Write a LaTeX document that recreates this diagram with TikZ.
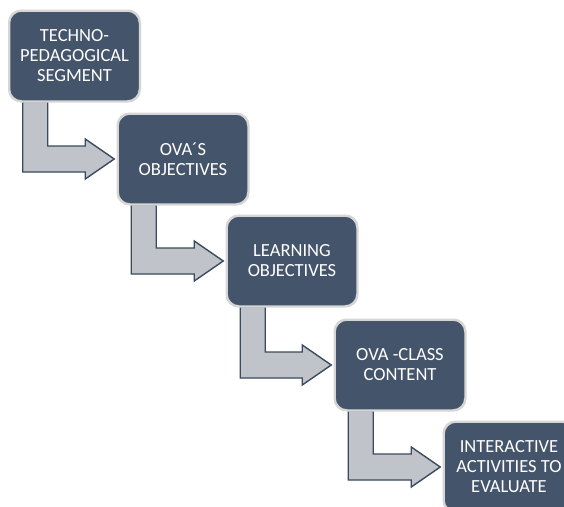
\documentclass[tikz,border=0pt]{standalone}
\usepackage{fontspec}
\setmainfont{Carlito}
\usetikzlibrary{calc}
\definecolor{boxfill}{HTML}{44546A}
\definecolor{boxline}{HTML}{D6D6D6}
\definecolor{arrfill}{HTML}{C0C4CA}
\definecolor{arrline}{HTML}{3B4A5E}
\tikzset{
  stepbox/.style={draw=boxline, line width=1.5pt, fill=boxfill, rounded corners=12pt,
    minimum width=130pt, minimum height=90pt, text=white, align=center,
    font=\fontsize{18.5}{20}\selectfont, inner sep=2pt},
  arr/.style={draw=arrline, line width=1.4pt, fill=arrfill, line join=miter}
}
\newcommand\bentarrow[2]{%
  \draw[arr] ($(#1.south west)+(14,0)$) |- ($(#2.west)+(-32,13)$) -- ++(0,7)
    -- ($(#2.west)+(-3,0)$) -- ($(#2.west)+(-32,-20)$) -- ++(0,7)
    -| ($(#1.south west)+(39,0)$) -- cycle;}
\begin{document}
\begin{tikzpicture}[x=1pt,y=-1pt]
\useasboundingbox (0,0) rectangle (564,506);
\clip (0,0) rectangle (564,506);
\fill[white] (0,0) rectangle (564,506);
\node[stepbox] (b1) at (74.5,56) {TECHNO-\\PEDAGOGICAL\\SEGMENT};
\node[stepbox] (b2) at (183,159) {OVA´S\\OBJECTIVES};
\node[stepbox] (b3) at (292,261) {LEARNING\\OBJECTIVES};
\node[stepbox] (b4) at (400,365) {OVA -CLASS\\CONTENT};
\node[stepbox] (b5) at (509,467) {INTERACTIVE\\ACTIVITIES TO\\EVALUATE};
\bentarrow{b1}{b2}
\bentarrow{b2}{b3}
\bentarrow{b3}{b4}
\bentarrow{b4}{b5}
\foreach \n in {b1,b2,b3,b4,b5} {\draw[draw=boxline, line width=1.5pt, rounded corners=12pt] (\n.south west) rectangle (\n.north east);}
\end{tikzpicture}
\end{document}
